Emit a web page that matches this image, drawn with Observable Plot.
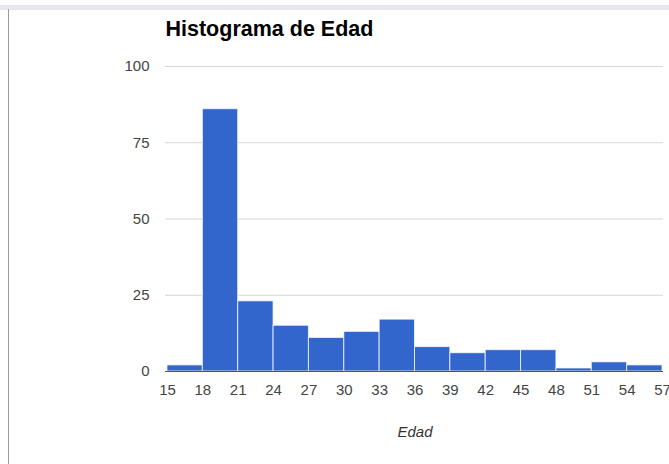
<!DOCTYPE html>
<html>
<head>
<meta charset="utf-8">
<script src="https://cdn.jsdelivr.net/npm/d3@7"></script>
<script src="https://cdn.jsdelivr.net/npm/@observablehq/plot@0.6"></script>
<style>
  html, body { margin: 0; padding: 0; background: #fff; }
  #wrap { position: relative; width: 669px; height: 464px; overflow: hidden; }
  #topband { position: absolute; left: 0; top: 5px; width: 669px; height: 5px; background: #e6e8ec; }
  #leftline { position: absolute; left: 8px; top: 9px; width: 1px; height: 455px; background: #9a9a9a; }
  #chart { position: absolute; left: 0; top: 0; }
</style>
</head>
<body>
<div id="wrap">
  <div id="chart"></div>
  <div id="topband"></div>
  <div id="leftline"></div>
</div>
<script>
const title = "Histograma de Edad";
const xLabel = "Edad";
const binStart = [15, 18, 21, 24, 27, 30, 33, 36, 39, 42, 45, 48, 51, 54];
const binWidth = 3;
const counts = [2, 86, 23, 15, 11, 13, 17, 8, 6, 7, 7, 1, 3, 2];
const xTicks = [15, 18, 21, 24, 27, 30, 33, 36, 39, 42, 45, 48, 51, 54, 57];
const yTicks = [0, 25, 50, 75, 100];

const bins = binStart.map((s, i) => ({x1: s, x2: s + binWidth, count: counts[i]}));
const font = "Arial, 'Liberation Sans', sans-serif";

const chart = Plot.plot({
  width: 669,
  height: 464,
  marginLeft: 167,
  marginRight: 7,
  marginTop: 66,
  marginBottom: 93,
  style: {fontFamily: font, fontSize: "15px", color: "#444", background: "transparent"},
  x: {domain: [15, 57]},
  y: {domain: [0, 100]},
  marks: [
    Plot.ruleY(yTicks.filter(d => d > 0), {stroke: "#d6d6d6", strokeWidth: 1, insetLeft: -2, insetRight: -1}),
    Plot.rectY(bins, {x1: "x1", x2: "x2", y: "count", fill: "#3366cc", stroke: "#ffffff", strokeOpacity: 0.75, strokeWidth: 1}),
    Plot.ruleY([0], {stroke: "#555", strokeWidth: 1, insetLeft: -2, insetRight: -1}),
    Plot.axisY({ticks: yTicks, tickSize: 0, tickPadding: 18, label: null, fill: "#444", fontSize: 15}),
    Plot.axisX({ticks: xTicks, tickSize: 0, tickPadding: 13, label: null, fill: "#444", fontSize: 15}),
    Plot.text([title], {frameAnchor: "top-left", text: d => d, textAnchor: "start", lineAnchor: "middle", dx: -2, dy: -37, fontSize: 21.5, fontWeight: "bold", fill: "#000"}),
    Plot.text([xLabel], {frameAnchor: "bottom", text: d => d, lineAnchor: "middle", dy: 61, fontSize: 15, fontStyle: "italic", fill: "#333"})
  ]
});
document.getElementById("chart").appendChild(chart);
</script>
</body>
</html>
